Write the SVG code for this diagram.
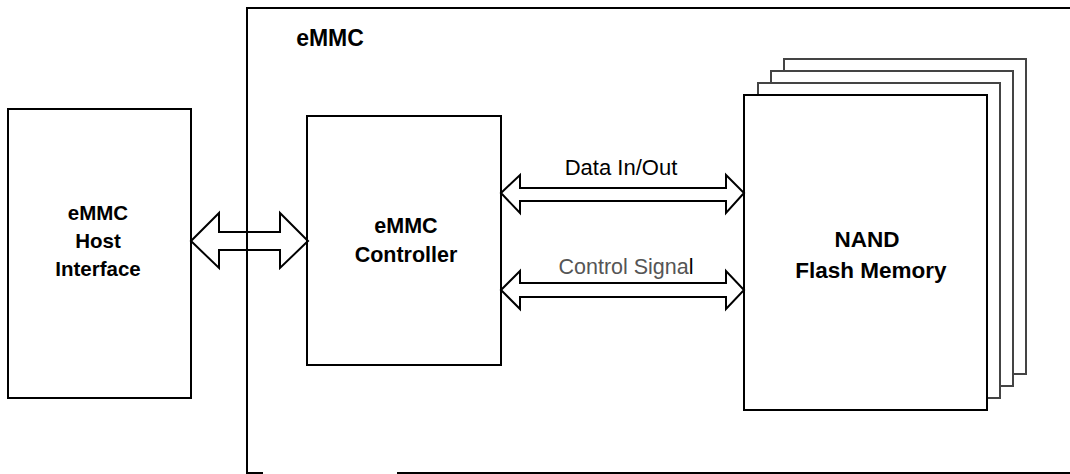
<svg xmlns="http://www.w3.org/2000/svg" width="1070" height="474" viewBox="0 0 1070 474">
<style>
.box{fill:#fff;stroke:#000;stroke-width:2}
.back{fill:#fff;stroke:#444;stroke-width:2}
.frame{fill:none;stroke:#000;stroke-width:2}
.arrow{fill:none;stroke:#000;stroke-width:2;stroke-linejoin:miter}
.bt{font-family:"Liberation Sans",Arial,sans-serif;font-weight:bold;font-size:20.5px;fill:#000;text-anchor:middle}
.lt{font-family:"Liberation Sans",Arial,sans-serif;font-size:21.5px;fill:#000;text-anchor:middle}
</style>
<rect width="1070" height="474" fill="#fff"/>
<g id="emmc">
<path class="frame" d="M263,473 H247 V8 H1071 M397,473 H1071"/>
<text class="bt" x="330" y="46" style="font-size:23px">eMMC</text>
</g>
<g id="host">
<rect class="box" x="8" y="109" width="183" height="289"/>
<text class="bt" x="98" y="220">eMMC</text>
<text class="bt" x="98" y="248">Host</text>
<text class="bt" x="98" y="276">Interface</text>
</g>
<g id="controller">
<rect class="box" x="307" y="116" width="194" height="249"/>
<text class="bt" x="406" y="233" style="font-size:21.5px">eMMC</text>
<text class="bt" x="406" y="262" style="font-size:21.5px">Controller</text>
</g>
<g id="nand">
<rect class="back" x="784" y="59" width="242" height="315"/>
<rect class="back" x="771" y="71" width="242" height="315"/>
<rect class="back" x="758" y="83" width="242" height="315"/>
<rect class="box" x="744" y="95" width="243" height="315"/>
<text class="bt" x="867" y="247" style="font-size:22.5px">NAND</text>
<text class="bt" x="871" y="278" style="font-size:22.5px">Flash Memory</text>
</g>
<g id="connectors">
<polygon class="arrow" points="191,241 219,213 219,232 280,232 280,213 308,241 280,268 280,250 219,250 219,268"/>
<polygon class="arrow" points="501,193 520,175 520,188 726,188 726,175 744,193 726,213 726,201 520,201 520,213"/>
<polygon class="arrow" points="501,290 520,271 520,283 726,283 726,271 744,290 726,309 726,297 520,297 520,309"/>
<text class="lt" x="621" y="175" style="font-size:22px">Data In/Out</text>
<text class="lt" x="626" y="274" style="fill:#555">Control Signa<tspan style="fill:#000">l</tspan></text>
</g>
</svg>
